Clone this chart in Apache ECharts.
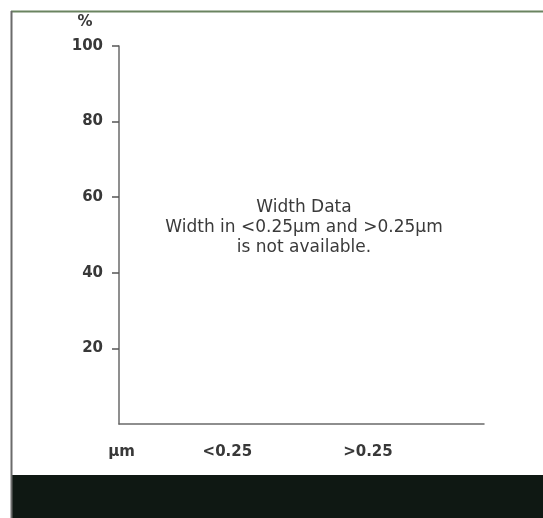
<!DOCTYPE html>
<html>
<head>
<meta charset="utf-8">
<script src="https://cdn.jsdelivr.net/npm/echarts@6/dist/echarts.min.js"></script>
<style>
  html, body { margin: 0; padding: 0; background: #ffffff; }
  #chart { width: 543px; height: 518px; }
</style>
</head>
<body>
<div id="chart"></div>
<script>
// ---- data ----
const categories = ['<0.25', '>0.25'];
const xUnit = 'μm';
const yUnit = '%';
const yTicks = [20, 40, 60, 80, 100];
const seriesValues = []; // width data not available
const noteLines = ['Width Data', 'Width in <0.25μm and >0.25μm', 'is not available.'];

// ---- layout (label positions along a 0..100 x scale) ----
const labelSlots = { 'μm': 0.7, '<0.25': 29.7, '>0.25': 68.2 };

const chart = echarts.init(document.getElementById('chart'), null, { renderer: 'canvas' });
const labelFont = { fontFamily: 'DejaVu Sans', fontWeight: 'bold', fontSize: 15, color: '#383838' };

const option = {
  backgroundColor: '#ffffff',
  animation: false,
  grid: { left: 119, right: 59, top: 46, bottom: 94, containLabel: false },
  xAxis: {
    type: 'value', min: 0, max: 100,
    splitLine: { show: false },
    axisLine: { show: true, lineStyle: { color: '#6a6a6a', width: 1.5 } },
    axisTick: { show: false },
    axisLabel: Object.assign({
      margin: 21,
      customValues: [xUnit].concat(categories).map(c => labelSlots[c]),
      formatter: function (v) {
        const all = [xUnit].concat(categories);
        for (const c of all) { if (Math.abs(labelSlots[c] - v) < 1e-6) return c; }
        return '';
      }
    }, labelFont)
  },
  yAxis: {
    type: 'value', min: 0, max: 100, interval: 20,
    name: yUnit,
    nameLocation: 'end',
    nameGap: 16,
    nameTextStyle: Object.assign({ align: 'center', padding: [0, 68, 0, 0] }, labelFont),
    splitLine: { show: false },
    axisLine: { show: true, lineStyle: { color: '#6a6a6a', width: 1.5 } },
    axisTick: { show: true, length: 7, lineStyle: { color: '#555555', width: 1.5 },
      customValues: yTicks },
    axisLabel: Object.assign({
      margin: 16,
      customValues: yTicks
    }, labelFont)
  },
  series: [{ type: 'bar', data: seriesValues }],
  graphic: [
    { type: 'rect', shape: { x: 11, y: 475, width: 532, height: 43 }, style: { fill: '#0f1813' }, silent: true },
    { type: 'line', shape: { x1: 11, y1: 11.5, x2: 543, y2: 11.5 }, style: { stroke: '#6a8460', lineWidth: 2 }, silent: true },
    { type: 'line', shape: { x1: 11.5, y1: 11, x2: 11.5, y2: 518 }, style: { stroke: '#6b6b6b', lineWidth: 2 }, silent: true },
    { type: 'text', x: 304, y: 228,
      style: { text: noteLines.join('\n'), fontFamily: 'DejaVu Sans', fontSize: 17, lineHeight: 20,
        fill: '#3a3a3a', align: 'center', verticalAlign: 'middle' }, silent: true }
  ]
};
chart.setOption(option);
</script>
</body>
</html>
